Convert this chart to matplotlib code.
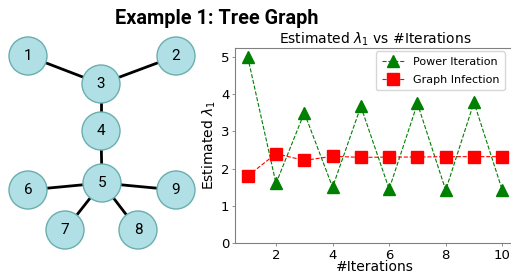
import matplotlib.pyplot as plt
from matplotlib.patches import Circle

# iterations and the two estimates of lambda_1
iterations = [1, 2, 3, 4, 5, 6, 7, 8, 9, 10]
power_iteration = [5.0, 1.6, 3.5, 1.5, 3.67, 1.45, 3.75, 1.42, 3.78, 1.42]
graph_infection = [1.8, 2.4, 2.22, 2.33, 2.3, 2.31, 2.31, 2.32, 2.32, 2.32]

# tree graph: nodes, edges and drawing layout
nodes = [1, 2, 3, 4, 5, 6, 7, 8, 9]
edges = [(1, 3), (2, 3), (3, 4), (4, 5), (5, 6), (5, 7), (5, 8), (5, 9)]
layout = {1: (28, 56), 2: (176, 56), 3: (101, 84), 4: (101, 131),
          5: (102, 183), 6: (28, 190), 7: (65, 230), 8: (138, 230), 9: (176, 190)}

W, H = 511, 273
fig = plt.figure(figsize=(W / 100, H / 100), dpi=100)

fig.text(217 / W, 1 - 18 / H, 'Example 1: Tree Graph', ha='center', va='center',
         fontsize=14.3, fontweight='bold', family='Roboto')

# left: tree graph drawn in pixel coordinates
gax = fig.add_axes([0, 0, 215 / W, 1])
gax.set_xlim(0, 215)
gax.set_ylim(H, 0)
gax.axis('off')
for a, b in edges:
    (x1, y1), (x2, y2) = layout[a], layout[b]
    gax.plot([x1, x2], [y1, y2], color='black', lw=2, zorder=1)
for n in nodes:
    x, y = layout[n]
    gax.add_patch(Circle((x, y), 19, facecolor='#b0e0e6', edgecolor='#6aaeae',
                         lw=1, zorder=2))
    gax.text(x, y, str(n), ha='center', va='center', fontsize=11,
             family='Roboto', zorder=3)

# right: convergence plot
ax = fig.add_axes([235 / W, 30 / H, 280 / W, 195 / H])
ax.plot(iterations, power_iteration, 'g^--', lw=0.8, ms=8, label='Power Iteration')
ax.plot(iterations, graph_infection, 'rs--', lw=0.8, ms=8, label='Graph Infection')
ax.set_ylim(0, 5.24)
ax.set_xticks([2, 4, 6, 8, 10])
ax.set_yticks([0, 1, 2, 3, 4, 5])
ax.tick_params(labelsize=9.5, color='gray', length=2, pad=2, width=0.6)
for s in ax.spines.values():
    s.set_color('gray')
    s.set_linewidth(0.8)
ax.set_title(r'Estimated $\lambda_1$ vs #Iterations', fontsize=10, pad=3)
ax.set_xlabel('#Iterations', fontsize=10, labelpad=-1)
ax.set_ylabel(r'Estimated $\lambda_1$', fontsize=10, labelpad=2)
ax.legend(loc='upper right', bbox_to_anchor=(0.975, 1.0), fontsize=8,
          borderaxespad=0.3, labelspacing=0.7, borderpad=0.5)

fig.savefig('out.png', dpi=100)
